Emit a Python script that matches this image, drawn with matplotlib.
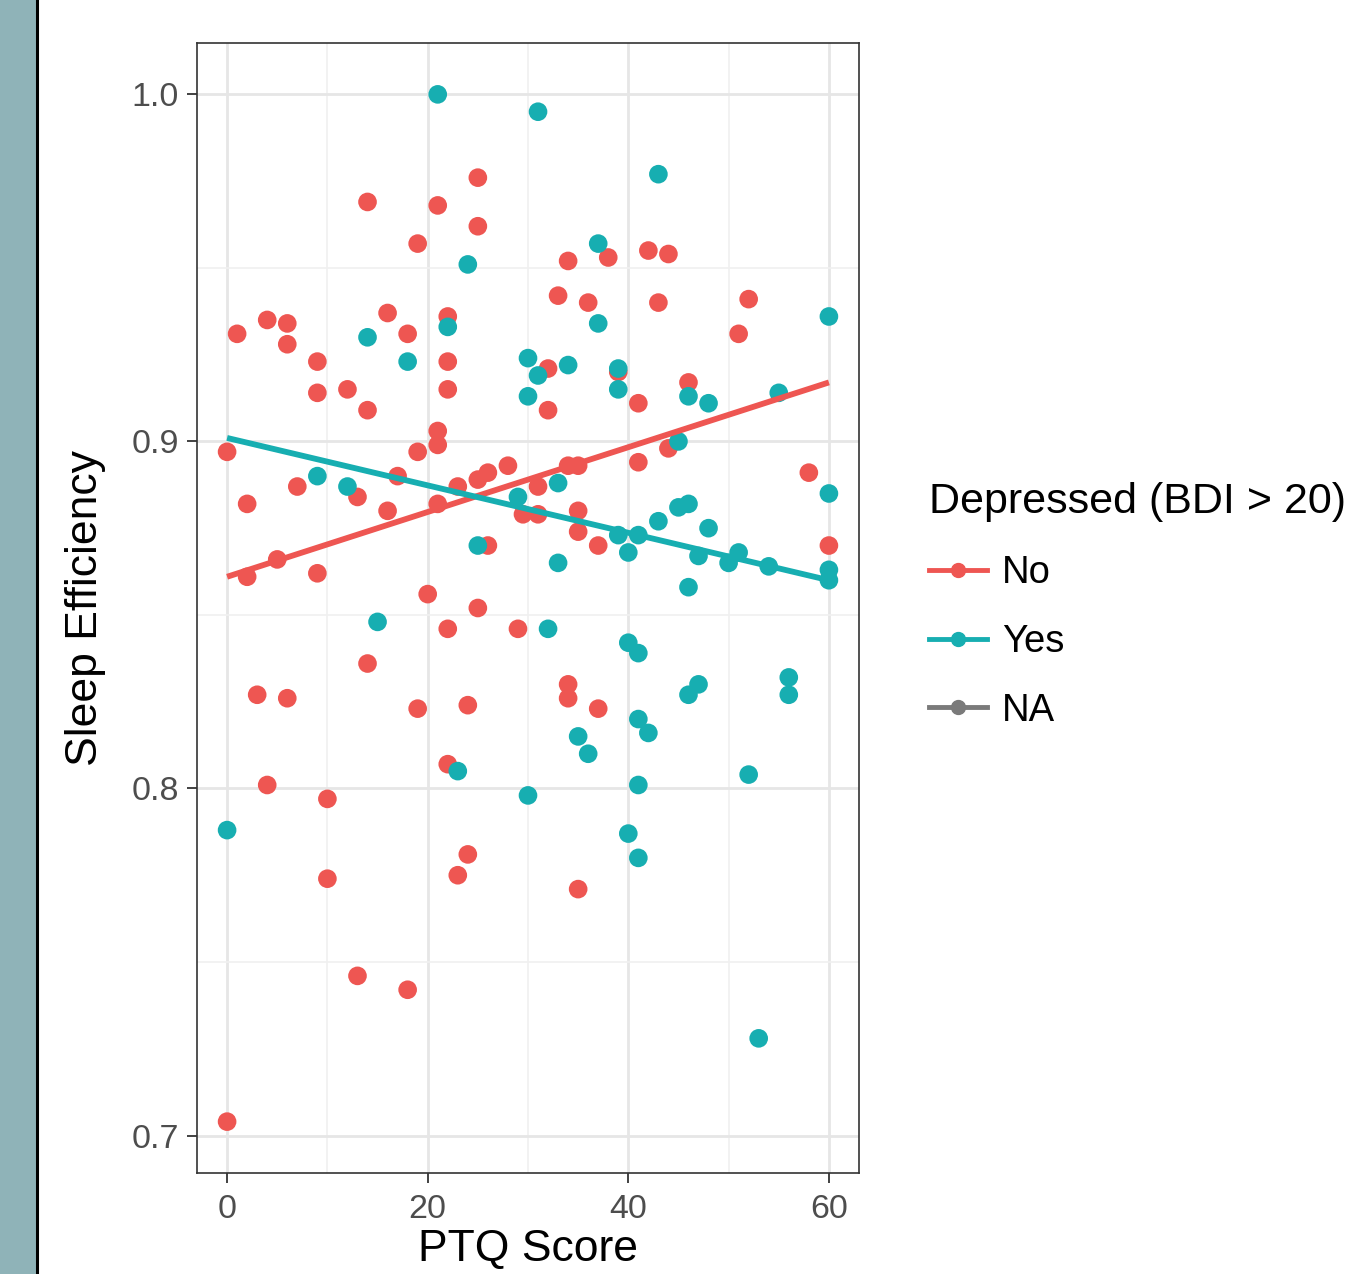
import numpy as np
import matplotlib
matplotlib.use("Agg")
import matplotlib.pyplot as plt
from matplotlib.lines import Line2D
from matplotlib.patches import Rectangle

plt.rcParams["font.family"] = ["Liberation Sans", "DejaVu Sans"]

# PTQ score / sleep efficiency, not depressed
NO_X = [0, 1, 2, 2, 4, 6, 6, 3, 6, 4, 5, 7, 9, 9, 9, 10, 10, 12, 13, 14, 14, 14,
        13, 16, 16, 17, 18, 18, 19, 19, 19, 20, 21, 21, 21, 21, 22, 22, 22, 22,
        22, 23, 23, 24, 24, 25, 25, 25, 25, 26, 26, 28, 29, 29.5, 31, 31, 32, 32,
        33, 34, 34, 34, 34, 35, 35, 35, 35, 36, 37, 37, 38, 39, 41, 41, 42, 43,
        44, 44, 46, 51, 52, 58, 60, 0]
NO_Y = [0.897, 0.931, 0.882, 0.861, 0.935, 0.934, 0.928, 0.827, 0.826, 0.801,
        0.866, 0.887, 0.923, 0.914, 0.862, 0.797, 0.774, 0.915, 0.884, 0.909,
        0.969, 0.836, 0.746, 0.937, 0.880, 0.890, 0.931, 0.742, 0.957, 0.897,
        0.823, 0.856, 0.968, 0.903, 0.899, 0.882, 0.936, 0.923, 0.915, 0.846,
        0.807, 0.887, 0.775, 0.824, 0.781, 0.976, 0.962, 0.889, 0.852, 0.891,
        0.870, 0.893, 0.846, 0.879, 0.879, 0.887, 0.921, 0.909, 0.942, 0.952,
        0.893, 0.830, 0.826, 0.880, 0.874, 0.893, 0.771, 0.940, 0.870, 0.823,
        0.953, 0.920, 0.911, 0.894, 0.955, 0.940, 0.954, 0.898, 0.917, 0.931,
        0.941, 0.891, 0.870, 0.704]

# depressed (BDI > 20)
YES_X = [21, 31, 43, 37, 24, 37, 22, 14, 18, 30, 34, 31, 39, 39, 30, 46, 48, 55,
         60, 9, 12, 45, 33, 29, 25, 33, 39, 41, 40, 43, 45, 46, 48, 47, 50, 51,
         54, 60, 60, 60, 46, 15, 32, 40, 41, 46, 47, 56, 56, 35, 36, 41, 42, 23,
         30, 41, 52, 40, 41, 0, 53]
YES_Y = [1.000, 0.995, 0.977, 0.957, 0.951, 0.934, 0.933, 0.930, 0.923, 0.924,
         0.922, 0.919, 0.921, 0.915, 0.913, 0.913, 0.911, 0.914, 0.936, 0.890,
         0.887, 0.900, 0.888, 0.884, 0.870, 0.865, 0.873, 0.873, 0.868, 0.877,
         0.881, 0.882, 0.875, 0.867, 0.865, 0.868, 0.864, 0.885, 0.863, 0.860,
         0.858, 0.848, 0.846, 0.842, 0.839, 0.827, 0.830, 0.832, 0.827, 0.815,
         0.810, 0.820, 0.816, 0.805, 0.798, 0.801, 0.804, 0.787, 0.780, 0.788,
         0.728]

# linear fits (geom_smooth, method = "lm")
FIT_X = [0, 60]
FIT_NO = [0.861, 0.917]
FIT_YES = [0.901, 0.860]

RED = "#EE5652"
TEAL = "#17AEB1"
GREY = "#7a7a7a"

fig = plt.figure(figsize=(13.56, 12.74), dpi=100)
fig.patches.append(Rectangle((0, 0), 36 / 1356, 1, transform=fig.transFigure,
                             facecolor="#8fb3b8", edgecolor="none", zorder=0))
fig.add_artist(Line2D([37 / 1356, 37 / 1356], [0, 1], transform=fig.transFigure,
                      color="black", lw=2.2))

ax = fig.add_axes([197 / 1356, 1 - 1173 / 1274, 662 / 1356, 1130 / 1274])
ax.set_xlim(-3, 63)
ax.set_ylim(0.6892, 1.0148)

ax.set_xticks([0, 20, 40, 60])
ax.set_xticks([10, 30, 50], minor=True)
ax.set_yticks([0.7, 0.8, 0.9, 1.0])
ax.set_yticks([0.75, 0.85, 0.95], minor=True)
ax.set_yticklabels(["0.7", "0.8", "0.9", "1.0"])
ax.grid(which="major", color="#e6e6e6", lw=2.0)
ax.grid(which="minor", color="#f0f0f0", lw=1.2)
ax.set_axisbelow(True)
ax.tick_params(which="major", length=7, width=1.3, color="#333333",
               labelsize=24.5, labelcolor="#4d4d4d", pad=6)
ax.tick_params(axis="x", which="major", pad=8)
ax.tick_params(which="minor", length=0)
for s in ax.spines.values():
    s.set_color("#333333")
    s.set_linewidth(1.2)

ax.scatter(NO_X, NO_Y, s=180, color=RED, edgecolors="none", zorder=3)
ax.scatter(YES_X, YES_Y, s=180, color=TEAL, edgecolors="none", zorder=3)
ax.plot(FIT_X, FIT_NO, color=RED, lw=4.2, zorder=4, solid_capstyle="butt")
ax.plot(FIT_X, FIT_YES, color=TEAL, lw=4.2, zorder=4, solid_capstyle="butt")

ax.set_xlabel("PTQ Score", fontsize=32, labelpad=3)
ax.set_ylabel("Sleep Efficiency", fontsize=32, labelpad=18)

handles = [Line2D([], [], color=c, lw=3.5, marker="o", markersize=10)
           for c in (RED, TEAL, GREY)]
leg = fig.legend(handles, ["No", "Yes", "NA"], title="Depressed (BDI > 20)",
                 loc="upper left", bbox_to_anchor=(914 / 1356, 1 - 467 / 1274),
                 frameon=False, fontsize=27.5, title_fontsize=31,
                 handlelength=1.5, labelspacing=0.86, handletextpad=0.4,
                 borderaxespad=0)
leg._legend_box.align = "left"

fig.savefig("out.png", dpi=100)
